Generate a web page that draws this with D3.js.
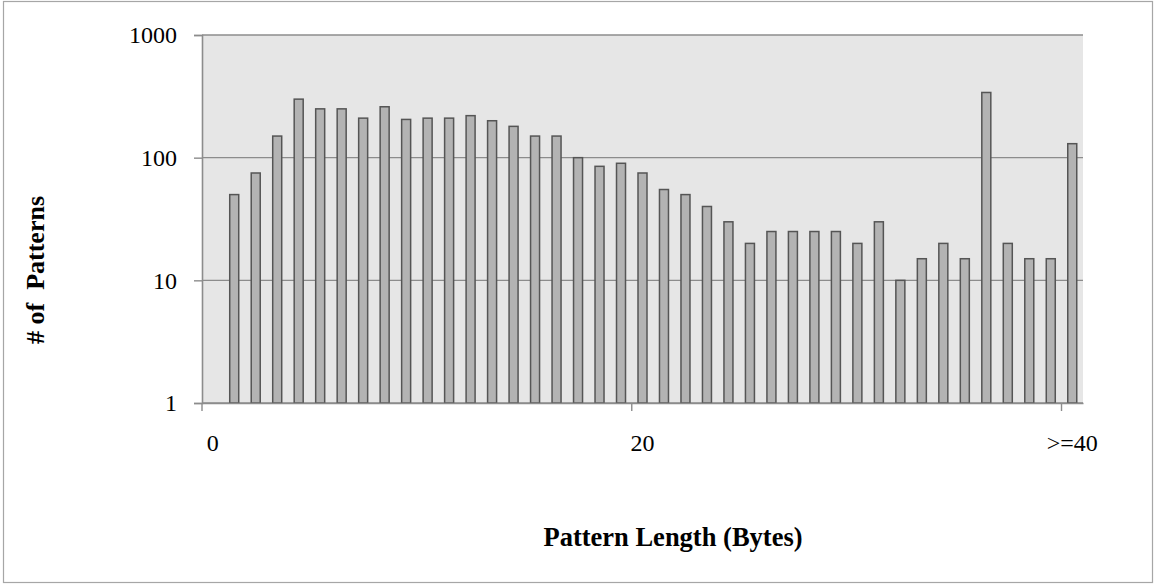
<!DOCTYPE html>
<html>
<head>
<meta charset="utf-8">
<script src="https://cdn.jsdelivr.net/npm/d3@7"></script>
<style>
  body { margin: 0; background: #fff; }
  text { font-family: "Liberation Serif", "Times New Roman", serif; fill: #000; }
</style>
</head>
<body>
<div id="chart"></div>
<script>
// pattern length categories (last one is the ">=40" bucket)
var lengths = ["0","1","2","3","4","5","6","7","8","9","10","11","12","13","14","15","16","17","18","19","20",
  "21","22","23","24","25","26","27","28","29","30","31","32","33","34","35","36","37","38","39","40"];
var patternCounts = [null, 50, 75, 150, 300, 250, 250, 210, 260, 205, 210, 210, 220, 200, 180, 150, 150, 100, 85, 90, 75,
  55, 50, 40, 30, 20, 25, 25, 25, 25, 20, 30, 10, 15, 20, 15, 340, 20, 15, 15, 130];
var xTicks = ["0", "20", "40"];
var xTickLabels = { "0": "0", "20": "20", "40": ">=40" };
var yTicks = [1, 10, 100, 1000];

var width = 1155;
var height = 585;
var margin = { top: 35, right: 72, bottom: 182, left: 202 };

var svg = d3.select('#chart')
  .append('svg')
  .attr('width', width)
  .attr('height', height);

// outer frame
svg.append('rect')
  .attr('x', 3.5).attr('y', 1.5)
  .attr('width', width - 6).attr('height', height - 4)
  .attr('fill', 'none')
  .attr('stroke', '#a6a6a6')
  .attr('stroke-width', 1.2);

var plotW = width - margin.left - margin.right;
var plotH = height - margin.top - margin.bottom;

var g = svg.append('g')
  .attr('transform', 'translate(' + margin.left + ',' + margin.top + ')');

var x = d3.scaleBand()
  .domain(lengths)
  .range([0, plotW])
  .paddingInner(0)
  .paddingOuter(0);

var y = d3.scaleLog()
  .domain([1, 1000])
  .range([plotH, 0]);

g.append('rect')
  .attr('width', plotW)
  .attr('height', plotH)
  .attr('fill', '#e6e6e6');

// gridlines
g.selectAll('.grid')
  .data(yTicks)
  .enter()
  .append('line')
  .attr('class', 'grid')
  .attr('x1', 0).attr('x2', plotW)
  .attr('y1', function(d) { return y(d); })
  .attr('y2', function(d) { return y(d); })
  .attr('stroke', '#8c8c8c')
  .attr('stroke-width', 1.4);

var barW = 9;
var data = lengths.map(function(c, i) { return { len: c, count: patternCounts[i] }; });

g.selectAll('.bar')
  .data(data.filter(function(d) { return d.count; }))
  .enter()
  .append('rect')
  .attr('class', 'bar')
  .attr('x', function(d) { return x(d.len) + x.bandwidth() / 2 - barW / 2; })
  .attr('y', function(d) { return y(d.count); })
  .attr('width', barW)
  .attr('height', function(d) { return plotH - y(d.count); })
  .attr('fill', '#b3b3b3')
  .attr('stroke', '#555')
  .attr('stroke-width', 1.5);

// y axis
var yAxis = g.append('g')
  .call(d3.axisLeft(y).tickValues(yTicks).tickFormat(d3.format('d')).tickSize(8).tickPadding(17));
yAxis.select('.domain').attr('stroke', '#8c8c8c').attr('stroke-width', 1.6);
yAxis.selectAll('.tick line').attr('stroke', '#8c8c8c').attr('stroke-width', 1.4);
yAxis.selectAll('.tick text')
  .style('font-family', '"Liberation Serif", serif')
  .style('font-size', '24px')
  .attr('fill', '#000');

// x axis
var xAxis = g.append('g')
  .attr('transform', 'translate(0,' + plotH + ')')
  .call(d3.axisBottom(x).tickValues(xTicks).tickFormat(function(d) { return xTickLabels[d]; }).tickSize(8).tickPadding(23).tickSizeOuter(0));
xAxis.select('.domain').attr('stroke', '#8c8c8c').attr('stroke-width', 1.6);
xAxis.selectAll('.tick line')
  .attr('x1', -x.bandwidth() / 2).attr('x2', -x.bandwidth() / 2)
  .attr('stroke', '#8c8c8c').attr('stroke-width', 1.4);
xAxis.selectAll('.tick text')
  .style('font-family', '"Liberation Serif", serif')
  .style('font-size', '24px')
  .attr('fill', '#000');

// axis titles
svg.append('text')
  .attr('x', 673)
  .attr('y', 546)
  .attr('text-anchor', 'middle')
  .style('font-size', '26.5px')
  .style('font-weight', 'bold')
  .text('Pattern Length (Bytes)');

svg.append('text')
  .attr('transform', 'translate(44,270) rotate(-90)')
  .attr('text-anchor', 'middle')
  .style('font-size', '26px')
  .style('font-weight', 'bold')
  .style('white-space', 'pre')
  .text('# of  Patterns');
</script>
</body>
</html>
